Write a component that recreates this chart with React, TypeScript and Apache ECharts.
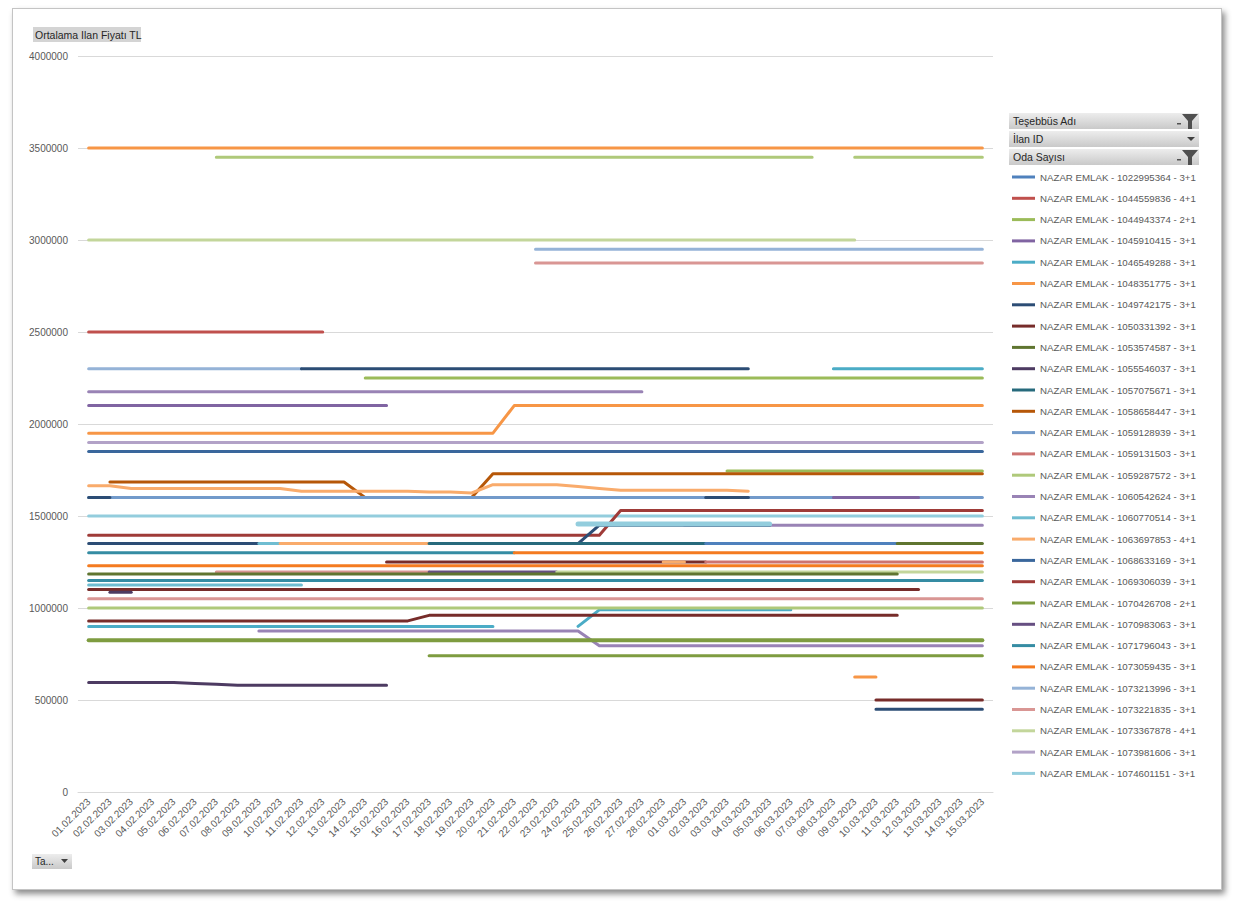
import React, { useEffect, useRef } from 'react';
import * as echarts from 'echarts';

// x axis: one category per day
const dates = [
  '01.02.2023', '02.02.2023', '03.02.2023', '04.02.2023', '05.02.2023', '06.02.2023', '07.02.2023',
  '08.02.2023', '09.02.2023', '10.02.2023', '11.02.2023', '12.02.2023', '13.02.2023', '14.02.2023',
  '15.02.2023', '16.02.2023', '17.02.2023', '18.02.2023', '19.02.2023', '20.02.2023', '21.02.2023',
  '22.02.2023', '23.02.2023', '24.02.2023', '25.02.2023', '26.02.2023', '27.02.2023', '28.02.2023',
  '01.03.2023', '02.03.2023', '03.03.2023', '04.03.2023', '05.03.2023', '06.03.2023', '07.03.2023',
  '08.03.2023', '09.03.2023', '10.03.2023', '11.03.2023', '12.03.2023', '13.03.2023', '14.03.2023',
  '15.03.2023',
];

const listingNames = [
  'NAZAR EMLAK - 1022995364 - 3+1', 'NAZAR EMLAK - 1044559836 - 4+1', 'NAZAR EMLAK - 1044943374 - 2+1',
  'NAZAR EMLAK - 1045910415 - 3+1', 'NAZAR EMLAK - 1046549288 - 3+1', 'NAZAR EMLAK - 1048351775 - 3+1',
  'NAZAR EMLAK - 1049742175 - 3+1', 'NAZAR EMLAK - 1050331392 - 3+1', 'NAZAR EMLAK - 1053574587 - 3+1',
  'NAZAR EMLAK - 1055546037 - 3+1', 'NAZAR EMLAK - 1057075671 - 3+1', 'NAZAR EMLAK - 1058658447 - 3+1',
  'NAZAR EMLAK - 1059128939 - 3+1', 'NAZAR EMLAK - 1059131503 - 3+1', 'NAZAR EMLAK - 1059287572 - 3+1',
  'NAZAR EMLAK - 1060542624 - 3+1', 'NAZAR EMLAK - 1060770514 - 3+1', 'NAZAR EMLAK - 1063697853 - 4+1',
  'NAZAR EMLAK - 1068633169 - 3+1', 'NAZAR EMLAK - 1069306039 - 3+1', 'NAZAR EMLAK - 1070426708 - 2+1',
  'NAZAR EMLAK - 1070983063 - 3+1', 'NAZAR EMLAK - 1071796043 - 3+1', 'NAZAR EMLAK - 1073059435 - 3+1',
  'NAZAR EMLAK - 1073213996 - 3+1', 'NAZAR EMLAK - 1073221835 - 3+1', 'NAZAR EMLAK - 1073367878 - 4+1',
  'NAZAR EMLAK - 1073981606 - 3+1', 'NAZAR EMLAK - 1074601151 - 3+1',
];

const listingColors = [
  '#4F81BD', '#C0504D', '#9BBB59', '#8064A2', '#4BACC6', '#F79646',
  '#2C4D75', '#772C2A', '#5F7530', '#4D3B62', '#276A7C', '#B65708',
  '#729ACA', '#CD7371', '#AFC97A', '#9983B5', '#6FBDD1', '#F9AB6B',
  '#3A679C', '#9F3B38', '#7E9C40', '#664F82', '#358CA3', '#F47B20',
  '#95B3D7', '#D99694', '#C3D69B', '#B2A2C7', '#93CDDD',
];

// price runs: [first day index, last day index, price TL]
type Run = [number, number, number];
type PriceLine = { key: string; s: number; runs: Run[] };

const priceLines: PriceLine[] = [
  { key: 'a', s: 5, runs: [[0, 42, 3500000]] },
  { key: 'b', s: 14, runs: [[6, 34, 3450000], [36, 42, 3450000]] },
  { key: 'c', s: 26, runs: [[0, 36, 3000000]] },
  { key: 'd', s: 24, runs: [[0, 10, 2300000], [21, 42, 2950000]] },
  { key: 'e', s: 25, runs: [[6, 16, 1195000], [21, 42, 2875000]] },
  { key: 'f', s: 1, runs: [[0, 11, 2500000]] },
  { key: 'g', s: 2, runs: [[13, 42, 2250000]] },
  { key: 'h', s: 15, runs: [[0, 26, 2175000], [28, 42, 1450000]] },
  { key: 'i', s: 5, runs: [[0, 19, 1950000], [20, 42, 2100000]] },
  { key: 'j', s: 27, runs: [[0, 42, 1900000]] },
  { key: 'k', s: 18, runs: [[0, 42, 1850000]] },
  { key: 'l', s: 2, runs: [[30, 42, 1745000]] },
  { key: 'm', s: 11, runs: [[1, 12, 1685000], [13, 18, 1600000], [19, 42, 1730000]] },
  {
    key: 'n', s: 17, runs: [
      [0, 1, 1665000], [2, 9, 1650000], [10, 15, 1635000], [16, 17, 1630000], [18, 18, 1625000],
      [19, 22, 1670000], [23, 23, 1660000], [24, 24, 1650000], [25, 30, 1640000], [31, 31, 1635000],
    ],
  },
  { key: 'o', s: 12, runs: [[0, 42, 1600000]] },
  { key: 'p', s: 6, runs: [[0, 1, 1600000], [10, 31, 2300000], [37, 42, 450000]] },
  { key: 'q', s: 6, runs: [[29, 31, 1600000]] },
  { key: 'r', s: 3, runs: [[0, 14, 2100000], [35, 39, 1600000]] },
  { key: 's', s: 28, runs: [[0, 42, 1500000]] },
  { key: 't', s: 19, runs: [[0, 24, 1395000], [25, 42, 1530000]] },
  { key: 'u', s: 6, runs: [[0, 23, 1350000], [24, 32, 1450000]] },
  { key: 'band', s: 28, runs: [[23, 32, 1456000]] },
  { key: 'v', s: 16, runs: [[8, 9, 1350000]] },
  { key: 'w', s: 17, runs: [[9, 16, 1350000]] },
  { key: 'x', s: 10, runs: [[16, 29, 1350000]] },
  { key: 'y', s: 0, runs: [[29, 38, 1350000]] },
  { key: 'z', s: 8, runs: [[38, 42, 1350000]] },
  { key: 'aa', s: 22, runs: [[0, 20, 1300000]] },
  { key: 'ab', s: 23, runs: [[20, 42, 1300000]] },
  { key: 'ac', s: 7, runs: [[14, 29, 1250000]] },
  { key: 'ad', s: 17, runs: [[27, 28, 1250000]] },
  { key: 'ae', s: 13, runs: [[29, 42, 1250000]] },
  { key: 'af', s: 23, runs: [[0, 42, 1230000]] },
  { key: 'ag', s: 21, runs: [[16, 22, 1195000]] },
  { key: 'ah', s: 26, runs: [[22, 42, 1195000]] },
  { key: 'ai', s: 8, runs: [[0, 38, 1185000]] },
  { key: 'aj', s: 22, runs: [[0, 42, 1150000]] },
  { key: 'ak', s: 16, runs: [[0, 10, 1125000]] },
  { key: 'al', s: 7, runs: [[0, 39, 1100000]] },
  { key: 'am', s: 9, runs: [[1, 2, 1085000]] },
  { key: 'an', s: 25, runs: [[0, 42, 1050000]] },
  { key: 'ao', s: 4, runs: [[0, 19, 900000], [23, 23, 900000], [24, 33, 990000], [35, 42, 2300000]] },
  { key: 'ap', s: 14, runs: [[0, 42, 1000000]] },
  { key: 'aq', s: 7, runs: [[0, 15, 930000], [16, 38, 960000]] },
  { key: 'ar', s: 15, runs: [[8, 23, 875000], [24, 42, 795000]] },
  { key: 'green825', s: 20, runs: [[0, 42, 825000]] },
  { key: 'as', s: 20, runs: [[16, 42, 740000]] },
  { key: 'at', s: 5, runs: [[36, 37, 625000]] },
  { key: 'au', s: 9, runs: [[0, 4, 595000], [5, 5, 590000], [6, 6, 585000], [7, 14, 580000]] },
  { key: 'av', s: 7, runs: [[37, 42, 500000]] },
];

const yMax = 4000000;
const yStep = 500000;

const lineWidths: Record<string, number> = { band: 5, green825: 4 };

const font = '"Liberation Sans", Arial, sans-serif';

const expand = (runs: Run[]) => {
  const out: (number | null)[] = dates.map(() => null);
  runs.forEach(([from, to, v]) => {
    for (let i = from; i <= to; i++) out[i] = v;
  });
  return out;
};

const buttonFill = {
  type: 'linear', x: 0, y: 0, x2: 0, y2: 1,
  colorStops: [{ offset: 0, color: '#EDEDED' }, { offset: 1, color: '#C9C9C9' }],
};

const funnel = (x: number, y: number) => [
  { type: 'rect', shape: { x: x - 5, y: y + 9, width: 4, height: 1.5 }, style: { fill: '#505050' } },
  {
    type: 'polygon',
    shape: { points: [[x, y], [x + 16, y], [x + 10, y + 7], [x + 10, y + 15], [x + 6, y + 15], [x + 6, y + 7]] },
    style: { fill: '#505050' },
  },
];

const fieldButton = (label: string, top: number, icon: 'funnel' | 'arrow') => [
  { type: 'rect', shape: { x: 1009, y: top, width: 190, height: 16 }, style: { fill: buttonFill } },
  {
    type: 'text', x: 1013, y: top + 8,
    style: { text: label, fill: '#262626', font: `10.5px ${font}`, verticalAlign: 'middle' },
  },
  ...(icon === 'funnel'
    ? funnel(1182, top + 1)
    : [{
      type: 'polygon',
      shape: { points: [[1187, top + 6], [1195, top + 6], [1191, top + 10]] },
      style: { fill: '#404040' },
    }]),
];

const App: React.FC = () => {
  const chartRef = useRef<HTMLDivElement>(null);

  useEffect(() => {
    if (!chartRef.current) return;
    const myChart = echarts.init(chartRef.current, null, { renderer: 'svg' });

    const series = priceLines.map((l) => ({
      type: 'line',
      name: listingNames[l.s],
      data: expand(l.runs),
      color: listingColors[l.s],
      symbol: 'none',
      showSymbol: false,
      silent: true,
      lineStyle: { width: lineWidths[l.key] ?? 3, cap: 'round', join: 'round' },
      emphasis: { disabled: true },
    }));

    const option = {
      animation: false,
      backgroundColor: 'transparent',
      grid: { left: 78, right: 241, top: 56, bottom: 115 },
      legend: {
        data: listingNames,
        orient: 'vertical',
        left: 1012,
        top: 171,
        padding: 0,
        icon: 'rect',
        itemWidth: 23,
        itemHeight: 3,
        itemGap: 9.3,
        selectedMode: false,
        textStyle: { fontSize: 9.7, color: '#595959', fontFamily: font, lineHeight: 12 },
      },
      xAxis: {
        type: 'category',
        data: dates,
        boundaryGap: true,
        axisLine: { lineStyle: { color: '#D9D9D9' } },
        axisTick: { show: false },
        axisLabel: { rotate: 45, interval: 0, fontSize: 10, color: '#595959', fontFamily: font, margin: 8 },
      },
      yAxis: {
        type: 'value',
        min: 0,
        max: yMax,
        interval: yStep,
        axisLine: { show: false },
        axisTick: { show: false },
        splitLine: { lineStyle: { color: '#D9D9D9' } },
        axisLabel: {
          fontSize: 10, color: '#595959', fontFamily: font, margin: 10,
          formatter: (v: number) => String(v),
        },
      },
      graphic: [
        { type: 'rect', shape: { x: 33, y: 27, width: 108, height: 15 }, style: { fill: '#D4D4D4' } },
        {
          type: 'text', x: 35, y: 34.5,
          style: { text: 'Ortalama Ilan Fiyatı TL', fill: '#262626', font: `10.5px ${font}`, verticalAlign: 'middle' },
        },
        ...fieldButton('Teşebbüs Adı', 113, 'funnel'),
        ...fieldButton('İlan ID', 131, 'arrow'),
        ...fieldButton('Oda Sayısı', 149, 'funnel'),
        { type: 'rect', shape: { x: 32, y: 854, width: 40, height: 15 }, style: { fill: buttonFill } },
        {
          type: 'text', x: 35, y: 861.5,
          style: { text: 'Ta...', fill: '#262626', font: `10px ${font}`, verticalAlign: 'middle' },
        },
        {
          type: 'polygon',
          shape: { points: [[61, 859], [68, 859], [64.5, 863]] },
          style: { fill: '#404040' },
        },
      ],
      series,
    };

    myChart.setOption(option);
    return () => {
      myChart.dispose();
    };
  }, []);

  return (
    <div style={{ position: 'absolute', left: 0, top: 0, width: 1234, height: 907, background: '#fff' }}>
      <div
        style={{
          position: 'absolute', left: 12, top: 8, width: 1208, height: 880,
          border: '1px solid #C4C4C4', boxShadow: '3px 4px 6px rgba(0,0,0,0.45)', background: '#fff',
        }}
      />
      <div ref={chartRef} style={{ position: 'absolute', left: 0, top: 0, width: 1234, height: 907 }} />
    </div>
  );
};

export default App;
